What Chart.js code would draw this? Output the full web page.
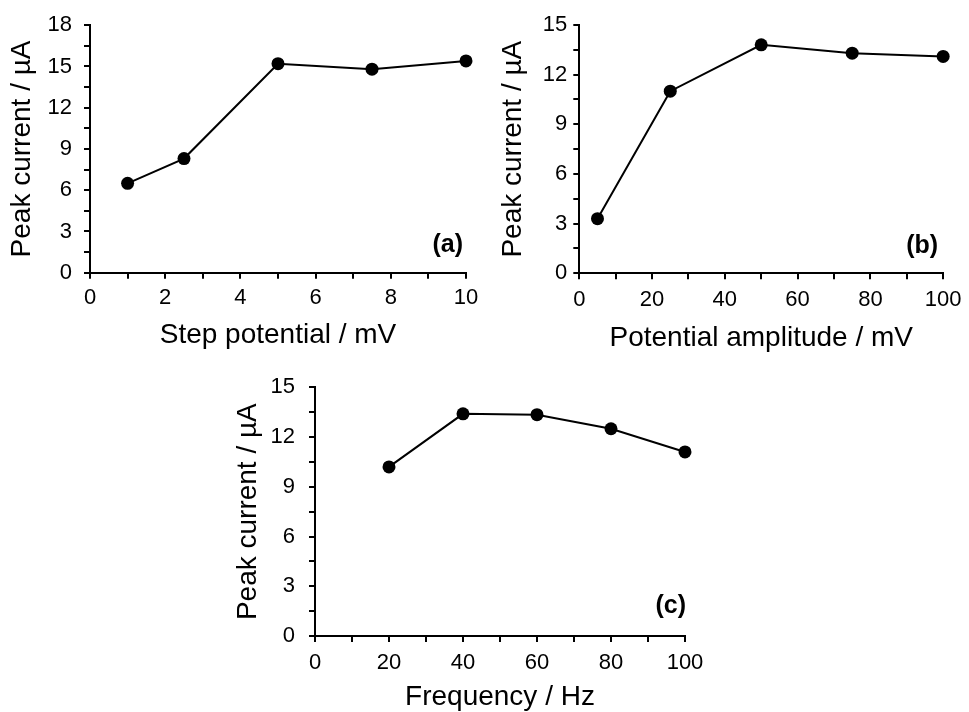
<!DOCTYPE html>
<html>
<head>
<meta charset="utf-8">
<script src="https://cdn.jsdelivr.net/npm/chart.js@4.4.0/dist/chart.umd.min.js"></script>
<style>
body { margin: 0; background: #fff; width: 969px; height: 712px; overflow: hidden; position: relative; }
canvas { position: absolute; }
</style>
</head>
<body>
<canvas id="chartA" width="490" height="352" style="left:0px;top:0px"></canvas>
<canvas id="chartB" width="479" height="355" style="left:490px;top:0px"></canvas>
<canvas id="chartC" width="500" height="352" style="left:220px;top:360px"></canvas>
<script>
// data
var stepPotential = [1, 2.5, 5, 7.5, 10];
var currentA = [6.5, 8.3, 15.2, 14.8, 15.4];

var amplitude = [5, 25, 50, 75, 100];
var currentB = [3.3, 11.0, 13.8, 13.3, 13.1];

var frequency = [20, 40, 60, 80, 100];
var currentC = [10.2, 13.4, 13.35, 12.5, 11.1];

var yTitle = 'Peak current / µA';
var FONT = "'Liberation Sans', Arial, sans-serif";

function pts(xs, ys) {
  return xs.map(function (x, i) { return { x: x, y: ys[i] }; });
}

function every(n) {
  return function (v) {
    var r = v / n;
    return Math.abs(r - Math.round(r)) < 1e-6 ? Math.round(v) : '';
  };
}

// panel letter in the lower right corner of the plot
var panelLabel = {
  id: 'panelLabel',
  afterDatasetsDraw: function (chart, args, opts) {
    var c = chart.ctx, a = chart.chartArea;
    c.save();
    c.font = 'bold 25px ' + FONT;
    c.fillStyle = '#000';
    c.textAlign = 'right';
    c.textBaseline = 'middle';
    c.fillText(opts.text, a.right + opts.dx, a.bottom - opts.dy);
    c.restore();
  }
};

function makeChart(id, o) {
  var axisCommon = {
    type: 'linear',
    border: { display: true, color: '#000', width: 2 },
    grid: { drawOnChartArea: false, drawTicks: true, tickLength: 6, color: '#000', lineWidth: 2 },
  };
  return new Chart(document.getElementById(id), {
    type: 'line',
    data: {
      datasets: [{
        data: pts(o.xs, o.ys),
        borderColor: '#000',
        borderWidth: 2,
        backgroundColor: '#000',
        pointRadius: 6.5,
        pointBackgroundColor: '#000',
        pointBorderWidth: 0,
        tension: 0,
        clip: false
      }]
    },
    plugins: [panelLabel],
    options: {
      responsive: false,
      animation: false,
      layout: { padding: o.pad },
      plugins: {
        legend: { display: false },
        tooltip: { enabled: false },
        panelLabel: o.label
      },
      scales: {
        x: Object.assign({}, axisCommon, {
          min: 0, max: o.xMax,
          afterFit: function (s) { s.height = o.xHeight; },
          ticks: {
            stepSize: o.xStep, autoSkip: false, maxRotation: 0, padding: o.xPad,
            color: '#000', font: { family: FONT, size: 22 },
            callback: every(o.xLabelEvery)
          },
          title: {
            display: true, text: o.xTitle, color: '#000',
            font: { family: FONT, size: 28 },
            padding: { top: 0, bottom: o.xTitlePad }
          }
        }),
        y: Object.assign({}, axisCommon, {
          min: 0, max: o.yMax,
          afterFit: function (s) { s.width = o.yWidth; },
          ticks: {
            stepSize: 1.5, autoSkip: false, padding: o.yPad,
            color: '#000', font: { family: FONT, size: 22 },
            callback: every(3)
          },
          title: {
            display: true, text: yTitle, color: '#000',
            font: { family: FONT, size: 28 },
            padding: { top: o.yTitlePad, bottom: 0 }
          }
        })
      }
    }
  });
}

makeChart('chartA', {
  xs: stepPotential, ys: currentA,
  xMax: 10, xStep: 1, xLabelEvery: 2, yMax: 18,
  xTitle: 'Step potential / mV',
  pad: { left: 0, top: 24, right: 24, bottom: 0 },
  yWidth: 90, xHeight: 79.3, xPad: 6, yPad: 12,
  xTitlePad: 0.2, yTitlePad: 5.2,
  label: { text: '(a)', dx: -3, dy: 28 }
});

makeChart('chartB', {
  xs: amplitude, ys: currentB,
  xMax: 100, xStep: 10, xLabelEvery: 20, yMax: 15,
  xTitle: 'Potential amplitude / mV',
  pad: { left: 0, top: 25, right: 19, bottom: 0 },
  yWidth: 89.3, xHeight: 81.7, xPad: 7.5, yPad: 6,
  xTitlePad: 0.2, yTitlePad: 6.5,
  label: { text: '(b)', dx: -5, dy: 27 }
});

makeChart('chartC', {
  xs: frequency, ys: currentC,
  xMax: 100, xStep: 10, xLabelEvery: 20, yMax: 15,
  xTitle: 'Frequency / Hz',
  pad: { left: 0, top: 27.3, right: 35, bottom: 0 },
  yWidth: 95, xHeight: 76, xPad: 8, yPad: 14,
  xTitlePad: -2.3, yTitlePad: 11.5,
  label: { text: '(c)', dx: 1, dy: 30 }
});
</script>
</body>
</html>
